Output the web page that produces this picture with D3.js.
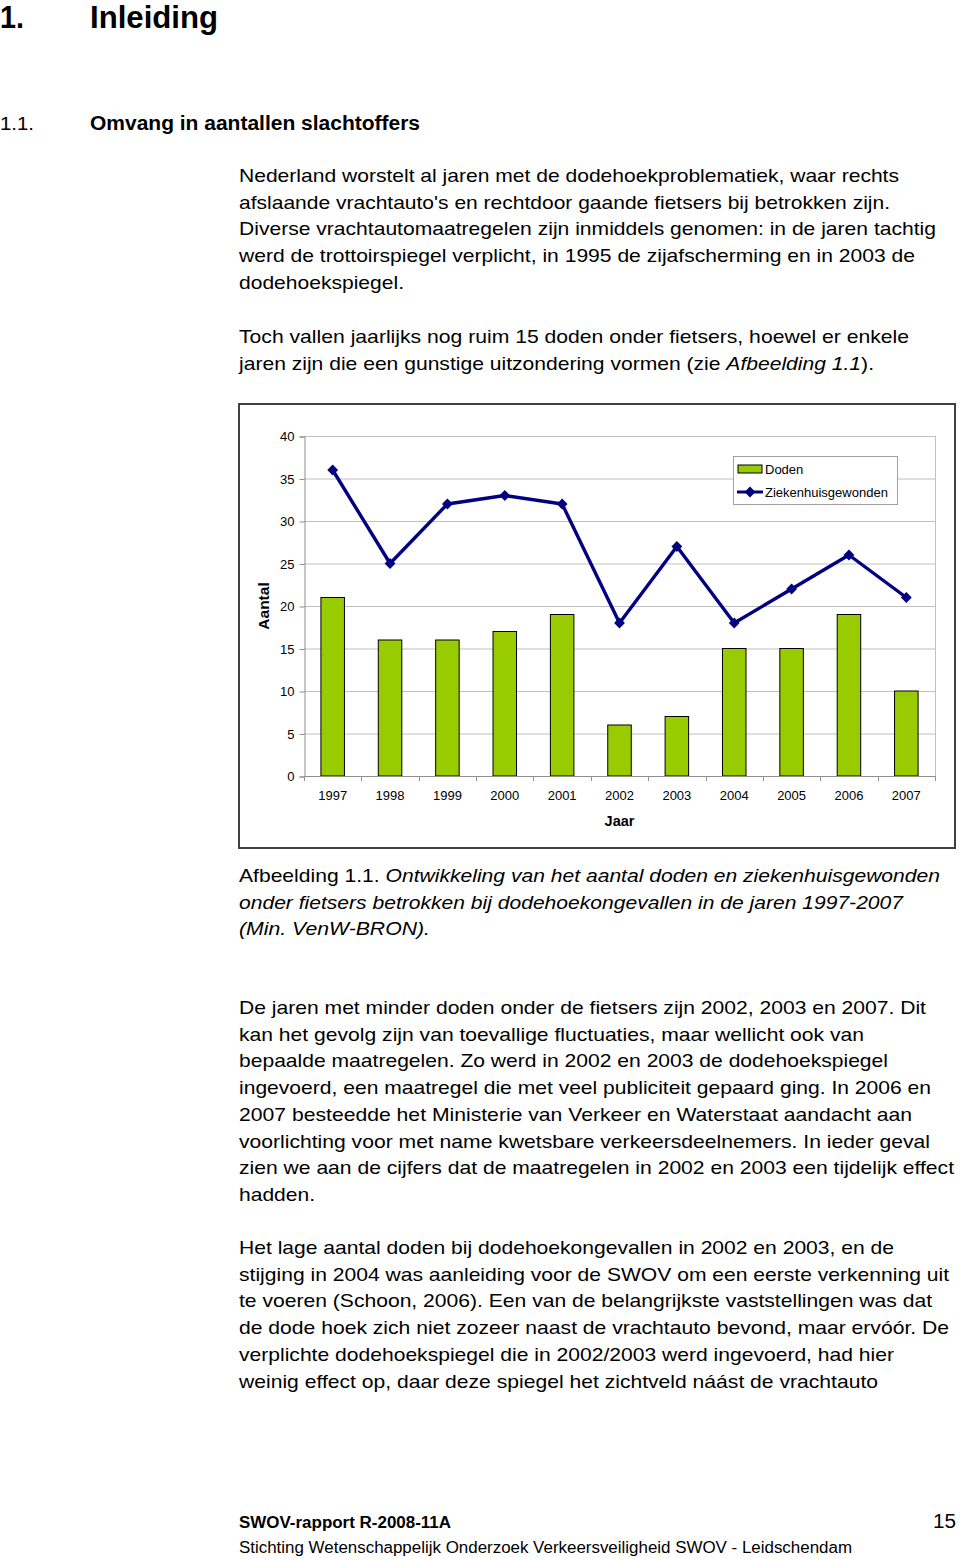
<!DOCTYPE html>
<html><head><meta charset="utf-8">
<script src="https://cdn.jsdelivr.net/npm/d3@7"></script>
<style>
html,body{margin:0;padding:0;background:#fff;}
svg{display:block;font-family:"Liberation Sans",Arial,sans-serif;}
</style></head>
<body>
<svg id="page" width="960" height="1559"></svg>
<script>
// ---- data ----
const years = ["1997","1998","1999","2000","2001","2002","2003","2004","2005","2006","2007"];
const doden = [21,16,16,17,19,6,7,15,15,19,10];
const ziekenhuisgewonden = [36,25,32,33,32,18,27,18,22,26,21];
const yTicks = [0,5,10,15,20,25,30,35,40];
const seriesNames = ["Doden","Ziekenhuisgewonden"];

// ---- text content ----
const para1 = [
 "Nederland worstelt al jaren met de dodehoekproblematiek, waar rechts",
 "afslaande vrachtauto's en rechtdoor gaande fietsers bij betrokken zijn.",
 "Diverse vrachtautomaatregelen zijn inmiddels genomen: in de jaren tachtig",
 "werd de trottoirspiegel verplicht, in 1995 de zijafscherming en in 2003 de",
 "dodehoekspiegel."
];
const para1W = [660,651,697,676,165];
const para3 = [
 "De jaren met minder doden onder de fietsers zijn 2002, 2003 en 2007. Dit",
 "kan het gevolg zijn van toevallige fluctuaties, maar wellicht ook van",
 "bepaalde maatregelen. Zo werd in 2002 en 2003 de dodehoekspiegel",
 "ingevoerd, een maatregel die met veel publiciteit gepaard ging. In 2006 en",
 "2007 besteedde het Ministerie van Verkeer en Waterstaat aandacht aan",
 "voorlichting voor met name kwetsbare verkeersdeelnemers. In ieder geval",
 "zien we aan de cijfers dat de maatregelen in 2002 en 2003 een tijdelijk effect",
 "hadden."
];
const para3W = [687,625,649,692,673,691,715,76];
const para4 = [
 "Het lage aantal doden bij dodehoekongevallen in 2002 en 2003, en de",
 "stijging in 2004 was aanleiding voor de SWOV om een eerste verkenning uit",
 "te voeren (Schoon, 2006). Een van de belangrijkste vaststellingen was dat",
 "de dode hoek zich niet zozeer naast de vrachtauto bevond, maar ervóór. De",
 "verplichte dodehoekspiegel die in 2002/2003 werd ingevoerd, had hier",
 "weinig effect op, daar deze spiegel het zichtveld náást de vrachtauto"
];
const para4W = [655,710,693,710,655,639];

const svg = d3.select("#page");
const LX = 239, LH = 26.7, FS = 19;

function textLine(x, y, str, w, opts={}) {
  const t = svg.append("text").attr("x", x).attr("y", y)
    .attr("font-size", opts.size || FS).attr("fill", "#000");
  if (opts.weight) t.attr("font-weight", opts.weight);
  if (opts.italic) t.attr("font-style", "italic");
  if (Array.isArray(str)) {
    str.forEach(s => {
      const ts = t.append("tspan").text(s.t);
      if (s.i) ts.attr("font-style","italic");
    });
  } else t.text(str);
  if (w) t.attr("textLength", w).attr("lengthAdjust", "spacingAndGlyphs");
  return t;
}

// headings
textLine(0, 28, "1.", 24, {size:31, weight:"bold"});
textLine(90, 28, "Inleiding", 128, {size:31, weight:"bold"});
textLine(0, 130, "1.1.", 34, {size:19});
textLine(90, 130, "Omvang in aantallen slachtoffers", 330, {size:20, weight:"bold"});

para1.forEach((s,i) => textLine(LX, 182 + i*LH, s, para1W[i]));
textLine(LX, 343, "Toch vallen jaarlijks nog ruim 15 doden onder fietsers, hoewel er enkele", 670);
textLine(LX, 343 + LH, [{t:"jaren zijn die een gunstige uitzondering vormen (zie "},{t:"Afbeelding 1.1",i:true},{t:")."}], 635);

// caption
textLine(LX, 882, [{t:"Afbeelding 1.1. "},{t:"Ontwikkeling van het aantal doden en ziekenhuisgewonden",i:true}], 701);
textLine(LX, 882 + LH, "onder fietsers betrokken bij dodehoekongevallen in de jaren 1997-2007", 664, {italic:true});
textLine(LX, 882 + 2*LH, "(Min. VenW-BRON).", 191, {italic:true});

para3.forEach((s,i) => textLine(LX, 1014 + i*LH, s, para3W[i]));
para4.forEach((s,i) => textLine(LX, 1254 + i*LH, s, para4W[i]));

// footer
textLine(LX, 1528, "SWOV-rapport R-2008-11A", 212, {size:16, weight:"bold"});
textLine(933, 1528, "15", 23, {size:20});
textLine(LX, 1553, "Stichting Wetenschappelijk Onderzoek Verkeersveiligheid SWOV - Leidschendam", 613, {size:16});

// ---- chart ----
svg.append("rect").attr("x",239).attr("y",404).attr("width",716).attr("height",444)
  .attr("fill","#fff").attr("stroke","#404040").attr("stroke-width",2);

const x = d3.scaleBand().domain(years).range([304, 935]).padding(0);
const y = d3.scaleLinear().domain([0, 40]).range([776, 436]);
const barW = x.bandwidth() * 0.41;

// gridlines
svg.append("g").selectAll("line").data(yTicks.filter(d => d > 0)).join("line")
  .attr("x1", 304).attr("x2", 935)
  .attr("y1", d => y(d) + 0.5).attr("y2", d => y(d) + 0.5)
  .attr("stroke", "#c0c0c0").attr("stroke-width", 1);
// right edge of plot area
svg.append("line").attr("x1",935.5).attr("x2",935.5).attr("y1",y(40)).attr("y2",y(0))
  .attr("stroke","#c0c0c0");

// bars
svg.append("g").selectAll("rect").data(years).join("rect")
  .attr("x", (d) => x(d) + (x.bandwidth() - barW) / 2)
  .attr("y", (d,i) => y(doden[i]))
  .attr("width", barW)
  .attr("height", (d,i) => y(0) - y(doden[i]))
  .attr("fill", "#99cc00").attr("stroke", "#000").attr("stroke-width", 1);

// y axis
const yAxis = svg.append("g").attr("transform", "translate(304.5,0.5)")
  .call(d3.axisLeft(y).tickValues(yTicks).tickSize(5).tickPadding(5));
yAxis.select(".domain").attr("stroke", "#909090");
yAxis.selectAll(".tick line").attr("stroke", "#909090");
yAxis.selectAll(".tick text").attr("font-size", 13).attr("font-family", "Liberation Sans, Arial, sans-serif").attr("fill","#000");

// x axis
const xAxis = svg.append("g").attr("transform", "translate(0,776.5)")
  .call(d3.axisBottom(x).tickSize(0).tickPadding(14));
xAxis.select(".domain").remove();
xAxis.selectAll(".tick text").attr("font-size", 13).attr("font-family", "Liberation Sans, Arial, sans-serif").attr("fill","#000");
svg.append("line").attr("x1", 304).attr("x2", 935).attr("y1", 776.5).attr("y2", 776.5).attr("stroke", "#909090");
const bounds = years.map(d => x(d)).concat([x(years[years.length-1]) + x.bandwidth()]);
svg.append("g").selectAll("line").data(bounds).join("line")
  .attr("x1", d => Math.round(d) + 0.5).attr("x2", d => Math.round(d) + 0.5)
  .attr("y1", 776).attr("y2", 781).attr("stroke", "#909090");

// line series
const line = d3.line().x((d,i) => x(years[i]) + x.bandwidth()/2).y(d => y(d));
svg.append("path").datum(ziekenhuisgewonden).attr("d", line)
  .attr("fill", "none").attr("stroke", "#000080").attr("stroke-width", 3.4).attr("stroke-linejoin","round");
const dia = 5.4;
svg.append("g").selectAll("path").data(ziekenhuisgewonden).join("path")
  .attr("d", (d,i) => {
    const cx = x(years[i]) + x.bandwidth()/2, cy = y(d);
    return `M${cx},${cy-dia}L${cx+dia},${cy}L${cx},${cy+dia}L${cx-dia},${cy}Z`;
  })
  .attr("fill", "#000080");

// axis titles
svg.append("text").attr("x", 619.5).attr("y", 826).attr("text-anchor","middle")
  .attr("font-size", 14.5).attr("font-weight","bold").text("Jaar");
svg.append("text").attr("transform","translate(269,606) rotate(-90)").attr("text-anchor","middle")
  .attr("font-size", 15.5).attr("font-weight","bold").text("Aantal");

// legend
const lg = svg.append("g");
lg.append("rect").attr("x", 733.5).attr("y", 456.5).attr("width", 164).attr("height", 48)
  .attr("fill", "#fff").attr("stroke", "#a0a0a0");
lg.append("rect").attr("x", 738).attr("y", 465).attr("width", 24).attr("height", 8)
  .attr("fill", "#99cc00").attr("stroke", "#000");
lg.append("text").attr("x", 765).attr("y", 473.5).attr("font-size", 13).text(seriesNames[0]);
lg.append("line").attr("x1", 737).attr("x2", 763).attr("y1", 492).attr("y2", 492)
  .attr("stroke", "#000080").attr("stroke-width", 3);
lg.append("path").attr("d", `M750,${492-dia}L${750+dia},492L750,${492+dia}L${750-dia},492Z`).attr("fill","#000080");
lg.append("text").attr("x", 765).attr("y", 497).attr("font-size", 13).text(seriesNames[1]);
</script>
</body></html>
